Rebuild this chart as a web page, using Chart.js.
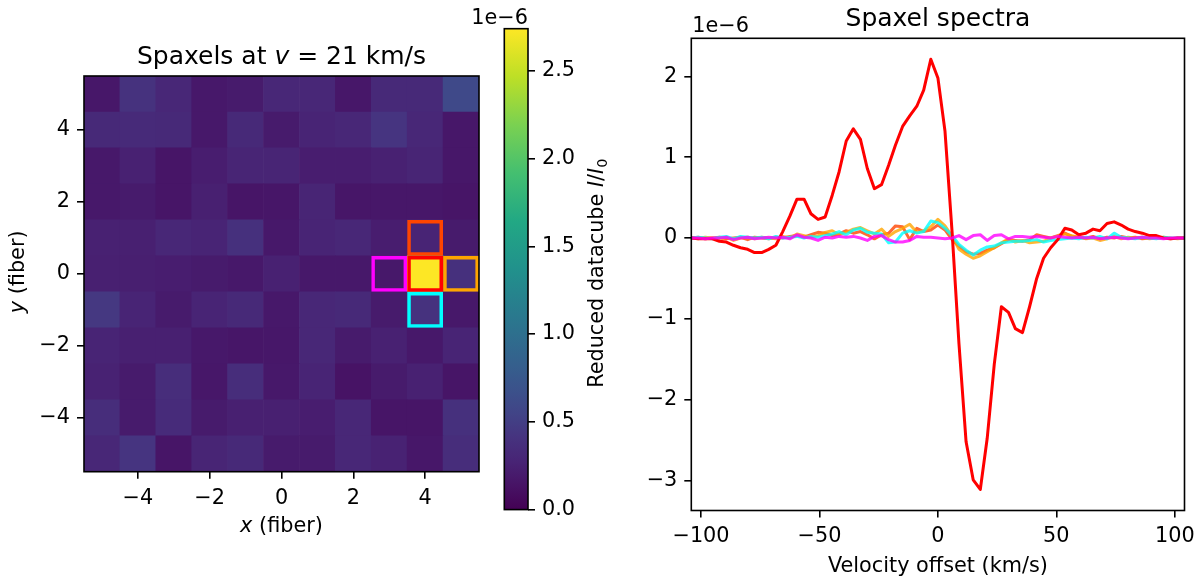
<!DOCTYPE html>
<html>
<head>
<meta charset="utf-8">
<title>Spaxels and spectra</title>
<script src="https://cdn.jsdelivr.net/npm/chart.js"></script>
<style>
  html, body { margin: 0; padding: 0; background: #fff; }
  #wrap { position: relative; width: 1200px; height: 582px; overflow: hidden; }
  canvas { position: absolute; top: 0; }
</style>
</head>
<body>
<div id="wrap">
  <canvas id="cube_map" width="500" height="582" style="left:0px"></canvas>
  <canvas id="cube_bar" width="180" height="582" style="left:440px"></canvas>
  <canvas id="spectra" width="580" height="582" style="left:620px"></canvas>
</div>

<script>
// ---- data (flux values in units of 1e-6) ----
const fiberX = [-5, -4, -3, -2, -1, 0, 1, 2, 3, 4, 5];
const fiberY = [5, 4, 3, 2, 1, 0, -1, -2, -3, -4, -5];
const fiberTicks = [-4, -2, 0, 2, 4];

// reduced datacube at v = 21 km/s, rows from y=5 (top) down to y=-5
const cube = [
    [0.17, 0.40, 0.30, 0.18, 0.20, 0.30, 0.30, 0.17, 0.32, 0.32, 0.60],
    [0.32, 0.33, 0.32, 0.18, 0.32, 0.20, 0.27, 0.30, 0.42, 0.30, 0.17],
    [0.18, 0.25, 0.15, 0.22, 0.28, 0.28, 0.22, 0.22, 0.25, 0.28, 0.17],
    [0.18, 0.20, 0.15, 0.24, 0.15, 0.16, 0.28, 0.16, 0.17, 0.17, 0.15],
    [0.25, 0.24, 0.30, 0.27, 0.38, 0.18, 0.27, 0.30, 0.22, 0.27, 0.20],
    [0.24, 0.23, 0.22, 0.20, 0.18, 0.25, 0.18, 0.18, 0.18, 2.74, 0.38],
    [0.45, 0.27, 0.20, 0.27, 0.32, 0.18, 0.30, 0.32, 0.20, 0.40, 0.18],
    [0.27, 0.24, 0.24, 0.18, 0.16, 0.17, 0.30, 0.20, 0.25, 0.18, 0.27],
    [0.26, 0.20, 0.36, 0.17, 0.36, 0.18, 0.27, 0.14, 0.20, 0.25, 0.15],
    [0.36, 0.20, 0.34, 0.20, 0.24, 0.24, 0.22, 0.30, 0.15, 0.15, 0.38],
    [0.30, 0.42, 0.15, 0.28, 0.32, 0.20, 0.20, 0.30, 0.26, 0.17, 0.36]
];

// highlighted spaxels: up, left, right, down, centre
const spaxX = [4, 3, 5, 4, 4];
const spaxY = [1, 0, 0, -1, 0];
const spaxColor = ['#ff4500', '#ff00ff', '#ffa500', '#00ffff', '#ff0000'];

const cbMin = 0;
const cbMax = 2.74;
const cbTicks = [0, 0.5, 1.0, 1.5, 2.0, 2.5];

const velocity = [
    -104.1, -101.2, -98.2, -95.2, -92.2, -89.3, -86.3, -83.3, -80.3, -77.4,
    -74.4, -71.4, -68.4, -65.5, -62.5, -59.5, -56.5, -53.6, -50.6, -47.6,
    -44.6, -41.7, -38.7, -35.7, -32.7, -29.8, -26.8, -23.8, -20.8, -17.9,
    -14.9, -11.9, -8.9, -6.0, -3.0, 0.0, 3.0, 6.0, 8.9, 11.9,
    14.9, 17.9, 20.8, 23.8, 26.8, 29.8, 32.7, 35.7, 38.7, 41.7,
    44.6, 47.6, 50.6, 53.6, 56.5, 59.5, 62.5, 65.5, 68.4, 71.4,
    74.4, 77.4, 80.3, 83.3, 86.3, 89.3, 92.2, 95.2, 98.2, 101.2, 104.1
];
const specCenter = [
    0.00, -0.01, -0.01, -0.01, -0.04, -0.05, -0.09, -0.12, -0.14, -0.18,
    -0.18, -0.14, -0.09, 0.08, 0.27, 0.48, 0.48, 0.30, 0.23, 0.26,
    0.53, 0.82, 1.20, 1.35, 1.22, 0.86, 0.61, 0.66, 0.90, 1.15,
    1.38, 1.51, 1.63, 1.83, 2.21, 1.98, 1.32, 0.07, -1.31, -2.52,
    -2.99, -3.11, -2.48, -1.56, -0.85, -0.92, -1.12, -1.17, -0.85, -0.50,
    -0.25, -0.12, -0.02, 0.12, 0.10, 0.04, 0.06, 0.11, 0.09, 0.18,
    0.20, 0.16, 0.11, 0.08, 0.06, 0.03, 0.03, 0.00, -0.01, 0.00, 0.00
];
const specUp = [
    0.00, 0.01, -0.01, 0.00, 0.01, -0.01, 0.00, 0.01, -0.02, 0.01,
    0.00, -0.01, 0.01, 0.00, 0.02, 0.03, 0.01, 0.04, 0.07, 0.06,
    0.03, 0.05, 0.09, 0.06, 0.08, 0.04, -0.01, 0.04, 0.06, 0.15,
    0.14, -0.02, 0.12, 0.08, 0.10, 0.16, 0.10, -0.02, -0.10, -0.17,
    -0.20, -0.19, -0.15, -0.12, -0.07, -0.02, -0.03, -0.04, -0.02, 0.04,
    0.02, 0.00, 0.03, 0.06, 0.02, 0.01, 0.00, 0.02, -0.01, 0.01,
    0.00, 0.02, 0.00, 0.01, -0.01, 0.00, 0.01, 0.00, -0.01, 0.00, 0.00
];
const specRight = [
    0.00, -0.01, 0.01, 0.00, -0.02, 0.01, -0.03, 0.00, 0.01, -0.01,
    0.01, 0.00, -0.01, 0.02, 0.00, 0.05, 0.03, 0.01, 0.03, 0.07,
    0.09, 0.04, 0.07, 0.11, 0.13, 0.09, 0.05, 0.11, 0.02, 0.08,
    0.12, 0.17, 0.07, 0.09, 0.14, 0.23, 0.15, 0.02, -0.14, -0.20,
    -0.25, -0.22, -0.17, -0.12, -0.06, -0.01, -0.05, -0.03, -0.06, -0.05,
    -0.04, 0.00, 0.02, 0.05, 0.03, 0.01, -0.01, 0.00, -0.03, -0.01,
    0.02, -0.01, 0.01, 0.00, 0.01, -0.01, 0.00, 0.01, 0.00, -0.01, 0.00
];
const specDown = [
    0.00, 0.01, 0.00, -0.01, 0.01, 0.02, -0.01, 0.02, 0.01, 0.00,
    0.01, -0.01, 0.02, 0.00, 0.01, 0.02, 0.00, 0.02, 0.01, 0.03,
    0.05, 0.08, 0.04, 0.10, 0.12, 0.07, 0.06, 0.05, -0.06, -0.05,
    0.06, 0.09, 0.06, 0.08, 0.21, 0.19, 0.12, 0.03, -0.08, -0.15,
    -0.21, -0.15, -0.11, -0.10, -0.06, -0.05, -0.04, -0.04, -0.03, -0.02,
    -0.05, -0.03, -0.02, -0.01, 0.00, -0.01, 0.01, 0.00, 0.02, -0.01,
    0.06, 0.01, 0.00, -0.01, 0.01, 0.00, -0.01, 0.01, 0.00, 0.00, 0.00
];
const specLeft = [
    0.00, 0.00, -0.01, 0.00, 0.00, 0.01, -0.02, 0.00, 0.01, -0.01,
    0.00, 0.01, 0.00, 0.01, -0.01, 0.04, 0.01, 0.00, -0.03, 0.01,
    0.00, 0.02, 0.01, 0.02, 0.00, -0.03, 0.02, 0.03, -0.02, -0.05,
    -0.05, -0.03, 0.02, 0.01, 0.01, 0.00, -0.01, 0.00, 0.03, -0.02,
    0.03, 0.04, -0.03, 0.03, 0.04, -0.01, 0.02, 0.02, 0.01, 0.02,
    0.01, 0.00, 0.02, 0.01, 0.00, 0.01, 0.00, 0.01, -0.01, 0.00,
    0.01, 0.00, -0.01, 0.00, 0.01, 0.00, 0.00, -0.01, 0.00, 0.00, 0.00
];
const velTicks = [-100, -50, 0, 50, 100];
const fluxTicks = [-3, -2, -1, 0, 1, 2];

// ---- styling helpers ----
const FONT = '"DejaVu Sans"';
const FS = 20.8;
Chart.defaults.font.family = FONT;
Chart.defaults.font.size = FS;
Chart.defaults.color = '#000';
Chart.defaults.animation = false;
Chart.defaults.plugins.legend.display = false;
Chart.defaults.plugins.tooltip.enabled = false;

const VIRIDIS = [
    [0.00, [68, 1, 84]], [0.05, [71, 19, 101]], [0.10, [72, 36, 117]],
    [0.15, [70, 51, 127]], [0.20, [65, 68, 135]], [0.25, [59, 82, 139]],
    [0.30, [53, 95, 141]], [0.40, [42, 120, 142]], [0.50, [33, 145, 140]],
    [0.60, [34, 168, 132]], [0.70, [68, 191, 112]], [0.80, [122, 209, 81]],
    [0.90, [189, 223, 38]], [1.00, [253, 231, 37]]
];
function viridis(t) {
    t = Math.max(0, Math.min(1, t));
    for (let i = 1; i < VIRIDIS.length; i++) {
        const [t1, c1] = VIRIDIS[i];
        if (t <= t1) {
            const [t0, c0] = VIRIDIS[i - 1];
            const f = (t - t0) / (t1 - t0);
            const c = c0.map((v, k) => Math.round(v + f * (c1[k] - v)));
            return 'rgb(' + c.join(',') + ')';
        }
    }
    return 'rgb(253,231,37)';
}
function rgbStr(c) { return 'rgb(' + c.join(',') + ')'; }

function fmt(v) {
    return (v < 0 ? '\u2212' : '') + Math.abs(v);
}

function tickGrid() {
    return { display: true, drawOnChartArea: false, drawTicks: true, tickLength: 7, color: '#000', lineWidth: 1.6 };
}

function fontOf(p) {
    return (p.it ? 'italic ' : '') + (p.size || FS) + 'px ' + FONT;
}
function richText(ctx, parts, x, y, align, angle) {
    ctx.save();
    ctx.translate(x, y);
    if (angle) ctx.rotate(angle);
    ctx.fillStyle = '#000';
    ctx.textBaseline = 'alphabetic';
    ctx.textAlign = 'left';
    let total = 0;
    const ws = parts.map(p => {
        ctx.font = fontOf(p);
        const w = ctx.measureText(p.t).width;
        total += w;
        return w;
    });
    let cx = align === 'center' ? -total / 2 : (align === 'right' ? -total : 0);
    parts.forEach((p, i) => {
        ctx.font = fontOf(p);
        ctx.fillText(p.t, cx, p.dy || 0);
        cx += ws[i];
    });
    ctx.restore();
}
function frame(chart) {
    const a = chart.chartArea, ctx = chart.ctx;
    ctx.save();
    ctx.strokeStyle = '#000';
    ctx.lineWidth = 1.6;
    ctx.strokeRect(a.left, a.top, a.right - a.left, a.bottom - a.top);
    ctx.restore();
}

// ---- left: spaxel map ----
const cells = [];
fiberY.forEach((yy, r) => {
    fiberX.forEach((xx, c) => {
        cells.push({ x: xx, y: [yy - 0.5, yy + 0.5], v: cube[r][c] });
    });
});
const boxes = spaxX.map((xx, i) => ({ x: xx, y: [spaxY[i] - 0.5, spaxY[i] + 0.5] }));

new Chart(document.getElementById('cube_map'), {
    type: 'bar',
    data: {
        datasets: [{
            data: boxes,
            order: 0,
            backgroundColor: 'rgba(0,0,0,0)',
            borderColor: spaxColor,
            borderWidth: 3.6,
            borderSkipped: false,
            inflateAmount: 0,
            grouped: false,
            barPercentage: 1,
            categoryPercentage: 1
        }, {
            data: cells,
            order: 1,
            backgroundColor: c => (c.raw ? viridis(c.raw.v / cbMax) : 'rgba(0,0,0,0)'),
            borderWidth: 0,
            grouped: false,
            barPercentage: 1,
            categoryPercentage: 1
        }]
    },
    options: {
        responsive: false,
        layout: { padding: { top: 76, right: 21, bottom: 0, left: 0 } },
        scales: {
            x: {
                type: 'linear', min: -5.5, max: 5.5, offset: false,
                afterBuildTicks: s => { s.ticks = fiberTicks.map(v => ({ value: v })); },
                afterFit: s => { s.height = 110.3; s.paddingLeft = 0; s.paddingRight = 0; },
                ticks: { callback: fmt, padding: 7, maxRotation: 0, autoSkip: false },
                grid: Object.assign(tickGrid(), { offset: false }),
                border: { display: false }
            },
            y: {
                type: 'linear', min: -5.5, max: 5.5,
                afterBuildTicks: s => { s.ticks = fiberTicks.map(v => ({ value: v })); },
                afterFit: s => { s.width = 84; s.paddingTop = 0; s.paddingBottom = 0; },
                ticks: { callback: fmt, padding: 7 },
                grid: tickGrid(),
                border: { display: false }
            }
        }
    },
    plugins: [{
        id: 'mapText',
        afterDraw(chart) {
            const a = chart.chartArea, ctx = chart.ctx;
            const cx = (a.left + a.right) / 2, cy = (a.top + a.bottom) / 2;
            frame(chart);
            richText(ctx, [{ t: 'Spaxels at ', size: 25 }, { t: 'v', it: 1, size: 25 }, { t: ' = 21 km/s', size: 25 }],
                cx, a.top - 12.5, 'center');
            richText(ctx, [{ t: 'x', it: 1 }, { t: ' (fiber)' }], cx, a.bottom + 60, 'center');
            richText(ctx, [{ t: 'y', it: 1 }, { t: ' (fiber)' }], 24, cy - 2, 'center', -Math.PI / 2);
        }
    }]
});

// ---- colour bar ----
new Chart(document.getElementById('cube_bar'), {
    type: 'bar',
    data: {
        labels: ['cube'],
        datasets: [{
            data: [[cbMin, cbMax]],
            backgroundColor: c => {
                const ch = c.chart, ys = ch.scales.y;
                if (!ys || !ch.chartArea) return '#440154';
                const g = ch.ctx.createLinearGradient(0, ys.getPixelForValue(cbMin), 0, ys.getPixelForValue(cbMax));
                VIRIDIS.forEach(([t, col]) => g.addColorStop(t, rgbStr(col)));
                return g;
            },
            borderWidth: 0,
            barPercentage: 1,
            categoryPercentage: 1
        }]
    },
    options: {
        responsive: false,
        layout: { padding: { top: 28.7, right: 0, bottom: 72.4, left: 64.3 } },
        scales: {
            x: { display: false },
            y: {
                position: 'right', min: cbMin, max: cbMax,
                afterBuildTicks: s => { s.ticks = cbTicks.map(v => ({ value: v })); },
                afterFit: s => { s.width = 92; s.paddingTop = 0; s.paddingBottom = 0; },
                ticks: { callback: v => v.toFixed(1), padding: 7 },
                grid: tickGrid(),
                border: { display: false }
            }
        }
    },
    plugins: [{
        id: 'barText',
        afterDraw(chart) {
            const a = chart.chartArea, ctx = chart.ctx;
            frame(chart);
            richText(ctx, [{ t: '1e\u22126' }], a.right, a.top - 4.6, 'right');
            richText(ctx, [
                { t: 'Reduced datacube ' }, { t: 'I', it: 1 }, { t: '/' }, { t: 'I', it: 1 },
                { t: '0', size: 14.6, dy: 3.5 }
            ], 163, (a.top + a.bottom) / 2 + 4, 'center', -Math.PI / 2);
        }
    }]
});

// ---- right: spectra ----
function series(values, color, order) {
    return {
        data: velocity.map((v, i) => ({ x: v, y: values[i] })),
        borderColor: color,
        borderWidth: 3,
        pointRadius: 0,
        tension: 0,
        borderJoinStyle: 'round',
        order: order
    };
}

new Chart(document.getElementById('spectra'), {
    type: 'line',
    data: {
        datasets: [
            series(specUp, 'rgba(255,69,0,0.8)', 4),
            series(specRight, 'rgba(255,165,0,0.8)', 3),
            series(specDown, 'rgba(0,255,255,0.8)', 2),
            series(specCenter, '#ff0000', 1),
            series(specLeft, 'rgba(255,0,255,0.8)', 0)
        ]
    },
    options: {
        responsive: false,
        layout: { padding: { top: 38.3, right: 15.5, bottom: 0, left: 0 } },
        scales: {
            x: {
                type: 'linear', min: -104.1, max: 104.1,
                afterBuildTicks: s => { s.ticks = velTicks.map(v => ({ value: v })); },
                afterFit: s => { s.height = 71.5; s.paddingLeft = 0; s.paddingRight = 0; },
                ticks: { callback: fmt, padding: 7, maxRotation: 0, autoSkip: false },
                grid: tickGrid(),
                border: { display: false }
            },
            y: {
                type: 'linear', min: -3.37, max: 2.47,
                afterBuildTicks: s => { s.ticks = fluxTicks.map(v => ({ value: v })); },
                afterFit: s => { s.width = 71.3; s.paddingTop = 0; s.paddingBottom = 0; },
                ticks: { callback: fmt, padding: 7 },
                grid: tickGrid(),
                border: { display: false }
            }
        }
    },
    plugins: [{
        id: 'specText',
        afterDraw(chart) {
            const a = chart.chartArea, ctx = chart.ctx;
            const cx = (a.left + a.right) / 2;
            frame(chart);
            richText(ctx, [{ t: 'Spaxel spectra', size: 25 }], cx, a.top - 12.5, 'center');
            richText(ctx, [{ t: '1e\u22126' }], a.left + 1, a.top - 6.6, 'left');
            richText(ctx, [{ t: 'Velocity offset (km/s)' }], cx, a.bottom + 61.2, 'center');
        }
    }]
});
</script>
</body>
</html>
